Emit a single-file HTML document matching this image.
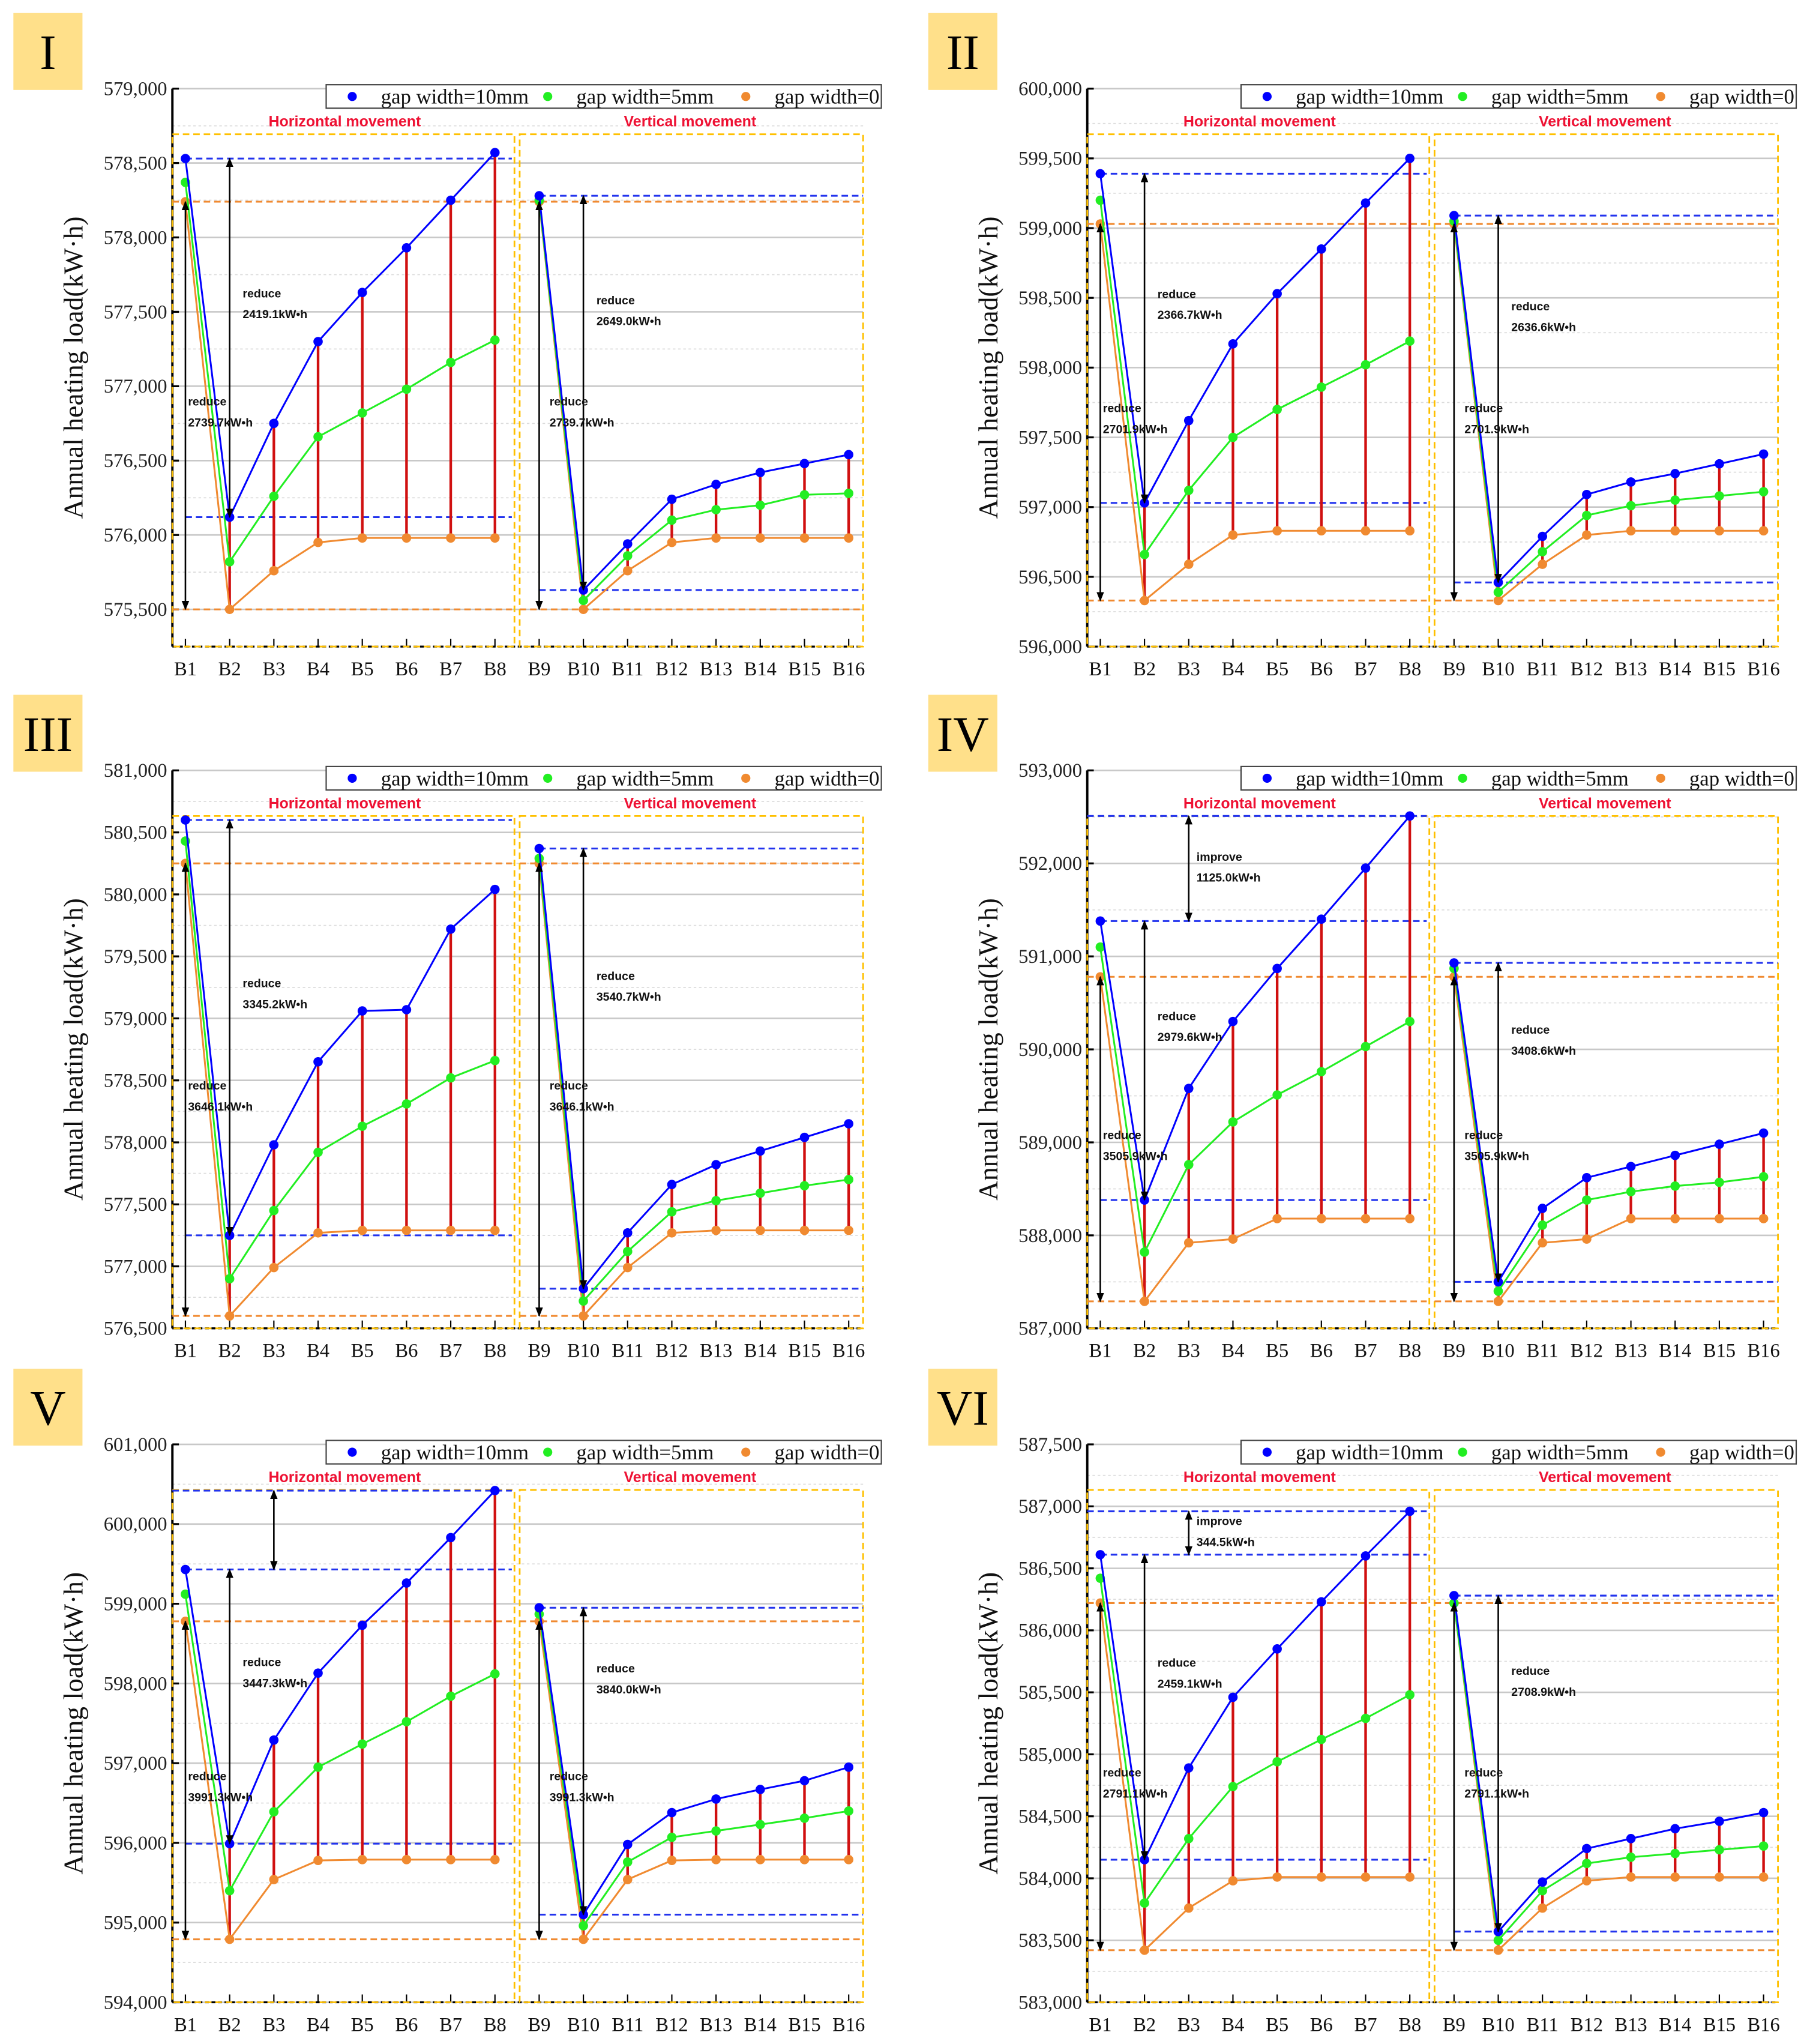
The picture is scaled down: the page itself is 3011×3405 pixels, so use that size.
<!DOCTYPE html>
<html><head><meta charset="utf-8"><style>
html,body{margin:0;padding:0;background:#fff;}
svg{display:block;}
</style></head><body>
<svg id="chart" width="3011" height="3405" viewBox="0 0 1386 1568" xmlns="http://www.w3.org/2000/svg"></svg>
<script>
const categories = ["B1","B2","B3","B4","B5","B6","B7","B8","B9","B10","B11","B12","B13","B14","B15","B16"];
const panelIds = ["I","II","III","IV","V","VI"];
const seriesNames = ["gap width=10mm","gap width=5mm","gap width=0"];
const axisMin = [575250, 596000, 576500, 587000, 594000, 583000];
const axisMax = [579000, 600000, 581000, 593000, 601000, 587500];
const axisStep = [500, 500, 500, 1000, 1000, 500];
const tickStart = [575500, 596000, 576500, 587000, 594000, 583000];
const gap10 = [
 [578530,576120,576750,577300,577630,577930,578250,578570,578280,575630,575940,576240,576340,576420,576480,576540],
 [599390,597030,597620,598170,598530,598850,599180,599500,599090,596460,596790,597090,597180,597240,597310,597380],
 [580600,577250,577980,578650,579060,579070,579720,580040,580370,576820,577270,577660,577820,577930,578040,578150],
 [591380,588380,589580,590300,590870,591400,591950,592510,590930,587500,588290,588620,588740,588860,588980,589100],
 [599430,595990,597290,598130,598730,599260,599830,600420,598950,595100,595980,596380,596550,596670,596780,596950],
 [586610,584150,584890,585460,585850,586230,586600,586960,586280,583570,583970,584240,584320,584400,584460,584530]];
const gap5 = [
 [578370,575820,576260,576660,576820,576980,577160,577310,578250,575560,575860,576100,576170,576200,576270,576280],
 [599200,596660,597120,597500,597700,597860,598020,598190,599050,596390,596680,596940,597010,597050,597080,597110],
 [580430,576900,577450,577920,578130,578310,578520,578660,580290,576720,577120,577440,577530,577590,577650,577700],
 [591100,587820,588760,589220,589510,589760,590030,590300,590870,587400,588110,588380,588470,588530,588570,588630],
 [599120,595400,596390,596950,597240,597520,597840,598120,598870,594960,595760,596070,596150,596230,596310,596400],
 [586420,583800,584320,584740,584940,585120,585290,585480,586220,583500,583900,584120,584170,584200,584230,584260]];
const gap0 = [
 [578240,575500,575760,575950,575980,575980,575980,575980,578240,575500,575760,575950,575980,575980,575980,575980],
 [599030,596330,596590,596800,596830,596830,596830,596830,599030,596330,596590,596800,596830,596830,596830,596830],
 [580250,576600,576990,577270,577290,577290,577290,577290,580250,576600,576990,577270,577290,577290,577290,577290],
 [590780,587290,587920,587960,588180,588180,588180,588180,590780,587290,587920,587960,588180,588180,588180,588180],
 [598780,594790,595540,595780,595790,595790,595790,595790,598780,594790,595540,595780,595790,595790,595790,595790],
 [586220,583420,583760,583980,584010,584010,584010,584010,586220,583420,583760,583980,584010,584010,584010,584010]];
const reduceLow = ["2739.7","2701.9","3646.1","3505.9","3991.3","2791.1"];
const reduceLeft = ["2419.1","2366.7","3345.2","2979.6","3447.3","2459.1"];
const reduceRight = ["2649.0","2636.6","3540.7","3408.6","3840.0","2708.9"];
const improveText = ["","","","1125.0","","344.5"];
const hasImprove = [false,false,false,true,true,true];

const NS="http://www.w3.org/2000/svg";
const svg=document.getElementById('chart');
function mk(tag,attrs,parent,txt){const e=document.createElementNS(NS,tag);for(const k in attrs)e.setAttribute(k,attrs[k]);if(txt!==undefined)e.textContent=txt;(parent||svg).appendChild(e);return e;}
const defs=mk('defs',{});
const mrk=mk('marker',{id:'ah',viewBox:'0 0 10 10',refX:'9',refY:'5',markerWidth:'6',markerHeight:'7',orient:'auto-start-reverse'},defs);
mk('path',{d:'M0,1 L10,5 L0,9 z',fill:'#000'},mrk);
const colors=["#0000ff","#22ee22","#f08a30"];
const fmt=v=>v.toLocaleString('en-US');

panelIds.forEach((pid,p)=>{
  const ox=(p%2)*702, oy=[0,523,1040][Math.floor(p/2)];
  const g=mk('g',{transform:`translate(${ox},${oy})`});
  
  
  const L=132,R=662,T=68,B=496;
  const y=v=>B-(v-axisMin[p])/(axisMax[p]-axisMin[p])*(B-T);
  const x=i=>142+i*33.93;
  const lb=mk('g',{},g);
  
  
  mk('rect',{x:10,y:10,width:53,height:59,fill:'#ffe08a'},lb);
  mk('text',{x:36.5,y:53,'text-anchor':'middle','font-family':'Liberation Serif, serif','font-size':38,fill:'#000'},lb,pid);
  for(let v=tickStart[p];v<=axisMax[p]+1;v+=axisStep[p]){
    const gl=mk('line',{x1:L,x2:R,y1:y(v),y2:y(v),stroke:'#c8c8c8','stroke-width':1.2},g);
    
    
    const vm=v+axisStep[p]/2;
    if(vm<axisMax[p]) mk('line',{x1:L,x2:R,y1:y(vm),y2:y(vm),stroke:'#dcdcdc','stroke-width':0.8,'stroke-dasharray':'2,2'},g);
    const tl=mk('text',{x:L-4,y:y(v)+5,'text-anchor':'end','font-family':'Liberation Serif, serif','font-size':15,fill:'#222'},g,fmt(v));
    
    
    mk('line',{x1:L,x2:L+5,y1:y(v),y2:y(v),stroke:'#000','stroke-width':1.5},g);
  }
  mk('line',{x1:L,x2:L,y1:T,y2:B,stroke:'#000','stroke-width':1.8},g);
  mk('line',{x1:L,x2:R,y1:B,y2:B,stroke:'#000','stroke-width':1.5,'stroke-dasharray':'3,2'},g);
  const yt=mk('text',{transform:`translate(63,${(T+B)/2}) rotate(-90)`,'text-anchor':'middle','font-family':'Liberation Serif, serif','font-size':21,fill:'#111'},g,'Annual heating load(kW·h)');
  
  
  categories.forEach((c,i)=>{
    mk('line',{x1:x(i),x2:x(i),y1:B,y2:B-6,stroke:'#000','stroke-width':1},g);
    const xl=mk('text',{x:x(i),y:B+22,'text-anchor':'middle','font-family':'Liberation Serif, serif','font-size':15,fill:'#111'},g,c);
    
    
  });
  const mid=(x(7)+x(8))/2;
  const bl=mk('rect',{x:L,y:103,width:mid-2-L,height:B-103,fill:'none',stroke:'#ffc000','stroke-width':1.3,'stroke-dasharray':'5,3'},g);
  
  
  const br=mk('rect',{x:mid+2,y:103,width:R-mid-2,height:B-103,fill:'none',stroke:'#ffc000','stroke-width':1.3,'stroke-dasharray':'5,3'},g);
  
  
  mk('text',{x:(L+mid)/2,y:97,'text-anchor':'middle','font-family':'Liberation Sans, sans-serif','font-size':11.5,'font-weight':'bold',fill:'#ee1133'},g,'Horizontal movement');
  mk('text',{x:(mid+R)/2,y:97,'text-anchor':'middle','font-family':'Liberation Sans, sans-serif','font-size':11.5,'font-weight':'bold',fill:'#ee1133'},g,'Vertical movement');
  const hd=(x1,x2,v,col)=>mk('line',{x1,x2,y1:y(v),y2:y(v),stroke:col,'stroke-width':1.4,'stroke-dasharray':'5,3'},g);
  hd(x(0),mid-4,gap10[p][0],'#2233ee'); hd(x(0),mid-4,gap10[p][1],'#2233ee');
  hd(L,mid-4,gap0[p][0],'#f08a30'); hd(L,mid-4,gap0[p][1],'#f08a30');
  hd(x(8),R,gap10[p][8],'#2233ee'); hd(x(8),R,gap10[p][9],'#2233ee');
  hd(mid+2,R,gap0[p][8],'#f08a30'); hd(mid+2,R,gap0[p][9],'#f08a30');
  if(hasImprove[p]) hd(L,mid-4,gap10[p][7],'#2233ee');
  categories.forEach((c,i)=>{
    if(i===0||i===8) return;
    const rl=mk('line',{x1:x(i),x2:x(i),y1:y(gap0[p][i]),y2:y(gap10[p][i]),stroke:'#d01010','stroke-width':2},g);
    
    
  });
  [[gap0,2],[gap5,1],[gap10,0]].forEach(([arr,si])=>{
    const d=arr[p];
    const seg=(a,b)=>d.slice(a,b).map((v,k)=>`${x(a+k)},${y(v)}`).join(' ');
    const l1=mk('polyline',{points:seg(0,8),fill:'none',stroke:colors[si],'stroke-width':1.4},g);
    
    
    const l2=mk('polyline',{points:seg(8,16),fill:'none',stroke:colors[si],'stroke-width':1.4},g);
    
    
    d.forEach((v,i)=>{
      const pt=mk('circle',{cx:x(i),cy:y(v),r:3.6,fill:colors[si]},g);
      
      
    });
  });
  const arrow=(xx,v1,v2)=>{const a=mk('line',{x1:xx,x2:xx,y1:y(v1),y2:y(v2),stroke:'#000','stroke-width':1.2,'marker-start':'url(#ah)','marker-end':'url(#ah)'},g);
    };
  const ann=(xx,yy,t1,t2)=>{mk('text',{x:xx,y:yy,'font-family':'Liberation Sans, sans-serif','font-size':9,'font-weight':'bold',fill:'#111'},g,t1);
    mk('text',{x:xx,y:yy+16,'font-family':'Liberation Sans, sans-serif','font-size':9,'font-weight':'bold',fill:'#111'},g,t2);};
  arrow(x(0),gap0[p][0],gap0[p][1]);
  arrow(x(1),gap10[p][0],gap10[p][1]);
  arrow(x(8),gap0[p][8],gap0[p][9]);
  arrow(x(9),gap10[p][8],gap10[p][9]);
  const lowY=y(gap0[p][1])-(y(gap0[p][1])-y(gap0[p][0]))*0.5;
  ann(x(0)+2,lowY,'reduce',reduceLow[p]+'kW•h');
  ann(x(8)+8,lowY,'reduce',reduceLow[p]+'kW•h');
  ann(x(1)+10,(y(gap10[p][0])+y(gap10[p][1]))/2-31,'reduce',reduceLeft[p]+'kW•h');
  ann(x(9)+10,(y(gap10[p][8])+y(gap10[p][9]))/2-68,'reduce',reduceRight[p]+'kW•h');
  if(hasImprove[p]){
    arrow(x(2),gap10[p][7],gap10[p][0]);
    if(improveText[p]) ann(x(2)+6,(y(gap10[p][7])+y(gap10[p][0]))/2-6,'improve',improveText[p]+'kW•h');
  }
  const lg=mk('g',{},g);
  
  
  mk('rect',{x:250,y:65,width:426,height:18,fill:'#fff',stroke:'#444','stroke-width':1},lg);
  const lx=[270,420,572];
  seriesNames.forEach((s,i)=>{
    const le=mk('g',{},lg);
    
    
    mk('circle',{cx:lx[i],cy:74,r:3.5,fill:colors[i]},le);
    mk('text',{x:lx[i]+22,y:79.5,'font-family':'Liberation Serif, serif','font-size':16,fill:'#111'},le,s);
  });
});
</script>
</body></html>
